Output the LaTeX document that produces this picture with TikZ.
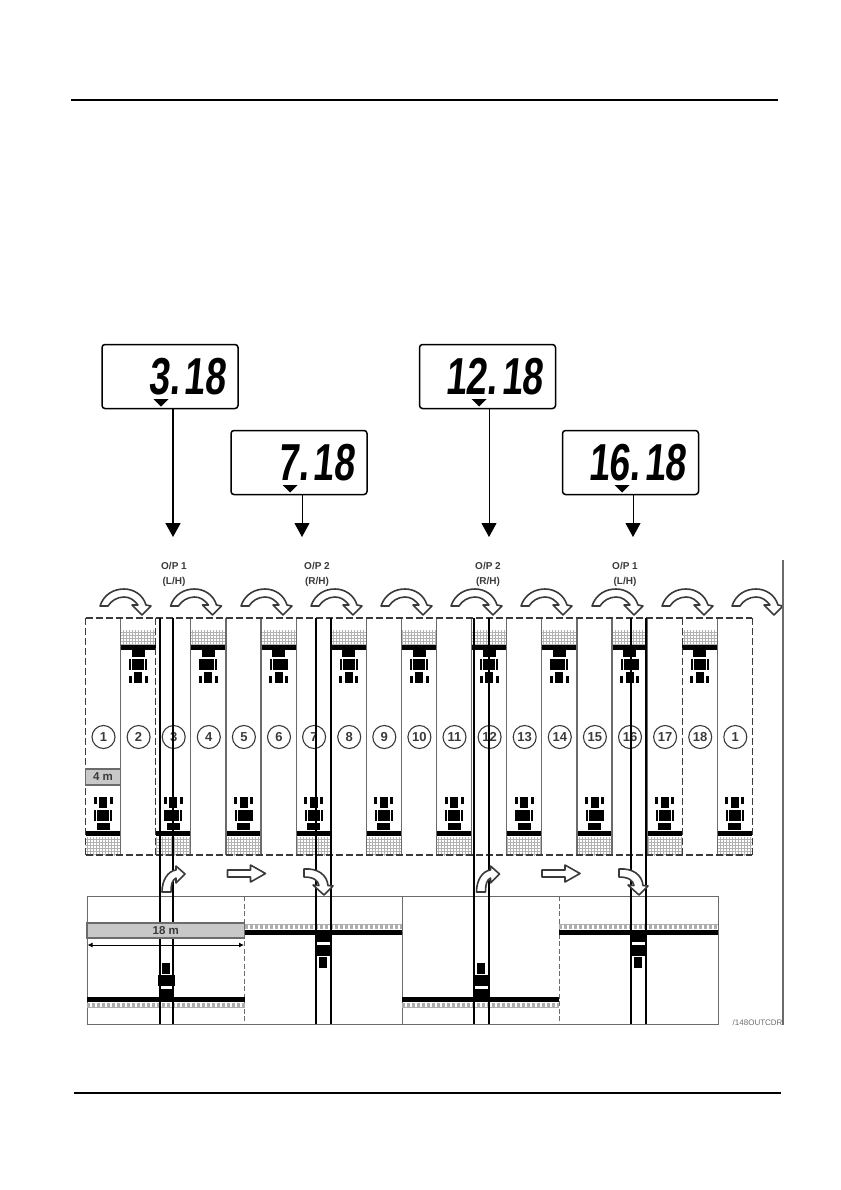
\documentclass[tikz,border=0pt]{standalone}
\usepackage{fontspec}
\setmainfont{Liberation Sans}
\newfontfamily\lcdfont[FakeStretch=.72,FakeSlant=.1]{Liberation Sans Bold}
\usetikzlibrary{arrows.meta, positioning, calc, patterns}
\definecolor{cgrey}{HTML}{6B6B6B}
\definecolor{cdark}{HTML}{3A3A3A}
\definecolor{cband}{HTML}{C8C8C8}
\tikzset{
  every picture/.style={x=1pt, y=-1pt, line width=1pt},
  lcdbox/.style={draw=black, fill=white, rounded corners=3pt, line width=1.5pt, minimum width=136pt, minimum height=64pt, inner sep=0pt},
  lcdtext/.style={font=\lcdfont\fontsize{52}{52}\selectfont, anchor=east, inner sep=0pt},
  arrow/.style={-{Triangle[length=14pt, width=15pt]}, draw=black, line width=1pt},
  oplabel/.style={font=\fontsize{10}{15.5}\selectfont\bfseries, text=cdark, align=center, inner sep=0pt},
  stripno/.style={draw=cdark, circle, minimum size=23pt, inner sep=0pt, line width=1.1pt, text=cdark, font=\fontsize{13}{13}\selectfont\bfseries},
  band/.style={draw=cgrey, fill=cband, line width=1.2pt, inner sep=0pt, text=cdark, font=\fontsize{11.5}{11.5}\selectfont\bfseries},
  hollow/.style={draw=cdark, fill=white, line width=1.6pt, line join=round},
  stripline/.style={draw=cgrey, line width=1.2pt},
  panelline/.style={draw=cgrey, line width=1pt},
  boundary/.style={draw=cdark, line width=1.1pt, dash pattern=on 7pt off 3pt},
  hatch/.style={pattern=grid, pattern color=black!30},
  bar/.style={fill=black},
  track/.style={draw=black, line width=1.8pt},
  turnarrow/.pic={
    \path[hollow] (0,0) .. controls (4,-12) and (14,-17) .. (24,-17) .. controls (34,-17) and (43,-11) .. (46,-1) -- (51,0) -- (42,9) -- (32,-1) -- (38,-1) .. controls (34,-6) and (30,-9) .. (24,-9) .. controls (17,-9) and (11,-5) .. (8,0) -- cycle;
  },
  tractor/.pic={
    \fill (-6.5,3) rectangle (6.5,10);
    \fill (-6,12) rectangle (6,23);
    \fill (-9,12) rectangle (-6.8,23);
    \fill (6.8,12) rectangle (9,23);
    \fill (-4,25) rectangle (4,36);
    \fill (-9.5,29) rectangle (-6.5,36);
    \fill (6.5,29) rectangle (9.5,36);
  },
  bigtractor/.pic={
    \fill (-7,2) rectangle (7,10);
    \fill (-8.5,13) rectangle (8.5,24);
    \fill (-4,25) rectangle (4,36);
  },
}
\begin{document}
\begin{tikzpicture}
  \useasboundingbox (0,0) rectangle (840,1190);
  \coordinate (ruletopa) at (71,100);
  \coordinate (ruletopb) at (778,100);
  \coordinate (rulebota) at (74,1093);
  \coordinate (rulebotb) at (781,1093);
  \draw[line width=1.2pt] (ruletopa) -- (ruletopb);
  \draw[line width=1.2pt] (rulebota) -- (rulebotb);
  \foreach \i/\cx/\cy/\ptr/\px/\val in {1/170/376.5/161/173/3.,2/299/462.5/290/302/7.,3/487.5/376.5/479/489/12.,4/630.5/462.5/622/633/16.} {
    \node[lcdbox] (lcd\i) at (\cx,\cy) {};
    \node[lcdtext] (val\i) at ($(lcd\i.east)+(-13,0)$) {\val\hspace{4pt}18};
    \fill (\ptr-7.5,\cy+22.5) -- (\ptr+7.5,\cy+22.5) -- (\ptr,\cy+30) -- cycle;
    \coordinate (hit\i) at (\px,537);
  }
  \draw[arrow, line width=1.8pt] (lcd1.south -| hit1) -- (hit1);
  \foreach \i in {2,3,4} \draw[arrow] (lcd\i.south -| hit\i) -- (hit\i);
  \foreach \i/\cx/\lab in {1/174/{O/P 1\\(L/H)},2/317/{O/P 2\\(R/H)},3/488/{O/P 2\\(R/H)},4/625/{O/P 1\\(L/H)}}
    \node[oplabel] (op\i) at (\cx,574.5) {\lab};
  \foreach \cx in {100,170.5,241,311,381,451,521,592,662,732}
    \pic at (\cx,606) {turnarrow};
  \foreach \i in {1,3,...,19} {
    \fill[hatch] (85.5+35.1*\i-35.1,837) rectangle (85.5+35.1*\i,855);
    \fill[bar] (85.5+35.1*\i-35.1,831) rectangle (85.5+35.1*\i,835.5);
    \pic[yscale=-1] at (85.5+35.1*\i-17.5,833) {tractor};
  }
  \foreach \i in {2,4,...,18} {
    \fill[hatch] (85.5+35.1*\i-35.1,630) rectangle (85.5+35.1*\i,645);
    \fill[bar] (85.5+35.1*\i-35.1,645) rectangle (85.5+35.1*\i,649.5);
    \pic at (85.5+35.1*\i-17.5,647) {tractor};
  }
  \foreach \i in {1,3,4,...,16,18}
    \draw[stripline] (85.5+35.1*\i,618) -- (85.5+35.1*\i,855);
  \foreach \i in {0,2,17,19}
    \draw[boundary] (85.5+35.1*\i,618) -- (85.5+35.1*\i,855);
  \draw[boundary] (85.5,618) -- (752.4,618);
  \draw[boundary] (85.5,855) -- (752.4,855);
  \foreach \i/\lab in {1/1,2/2,3/3,4/4,5/5,6/6,7/7,8/8,9/9,10/10,11/11,12/12,13/13,14/14,15/15,16/16,17/17,18/18,19/1}
    \node[stripno] (no\i) at (103.5+35.1*\i-35.1,737) {\lab};
  \node[band, minimum width=34.5pt, minimum height=16pt] (width4) at (103,777) {4 m};
  \draw[panelline] (87,896) rectangle (718,1024);
  \draw[panelline, dash pattern=on 5pt off 2.5pt] (244.5,896) -- (244.5,1024);
  \draw[panelline] (402,896) -- (402,1024);
  \draw[panelline, dash pattern=on 5pt off 2.5pt] (559,896) -- (559,1024);
  \foreach \xa/\xb/\xm in {87/244.5/166,402/559/481} {
    \fill[bar] (\xa,996.5) rectangle (\xb,1002);
    \draw[cgrey!55, line width=4pt, dash pattern=on 3pt off 2pt] (\xa,1004.5) -- (\xb,1004.5);
    \draw[cgrey!55, line width=.8pt] (\xa,1007) -- (\xb,1007);
    \pic[yscale=-1] at (\xm,999) {bigtractor};
  }
  \foreach \xa/\xb/\xm in {244.5/402/323,559/718/638} {
    \fill[bar] (\xa,929.5) rectangle (\xb,935);
    \draw[cgrey!55, line width=4pt, dash pattern=on 3pt off 2pt] (\xa,926.5) -- (\xb,926.5);
    \draw[cgrey!55, line width=.8pt] (\xa,924) -- (\xb,924);
    \pic at (\xm,932) {bigtractor};
  }
  \foreach \xa/\xb in {160/173,316/331,474/489,631/646} {
    \draw[track] (\xa,618) -- (\xa,1024);
    \draw[track] (\xb,618) -- (\xb,1024);
  }
  \node[band, minimum width=157.5pt, minimum height=15pt] (width18) at (165.75,930.5) {18 m};
  \coordinate (dima) at (87.5,945);
  \coordinate (dimb) at (244,945);
  \draw[{Latex[length=5pt,width=5pt]}-{Latex[length=5pt,width=5pt]}, line width=.9pt] (dima) -- (dimb);
  \foreach \xs in {0,314.5}
    \path[hollow, shift={(\xs,0)}] (162,892) -- (171,892) .. controls (171,885) and (172,880) .. (176,878) -- (176,883) -- (185,874) -- (176,866) -- (176,870) .. controls (168,871) and (162,880) .. (162,892) -- cycle;
  \foreach \xs in {0,315}
    \path[hollow, shift={(\xs,0)}] (304,869) .. controls (318,868) and (327,875) .. (328,885.5) -- (333,886) -- (324,895) -- (313,885) -- (319,885.5) .. controls (318,880) and (313,877) .. (304,877) -- cycle;
  \foreach \xs in {227.5,542}
    \path[hollow, shift={(\xs,873.5)}] (0,-3.5) -- (23,-3.5) -- (23,-8.5) -- (38,0) -- (23,8.5) -- (23,3.5) -- (0,3.5) -- cycle;
  \draw[cgrey, line width=1.3pt] (783,560) -- (783,1025);
  \node[font=\fontsize{8}{8}\selectfont, text=cgrey, anchor=east, inner sep=0pt] (code) at (783,1023) {/148OUTCDR};
\end{tikzpicture}
\end{document}
